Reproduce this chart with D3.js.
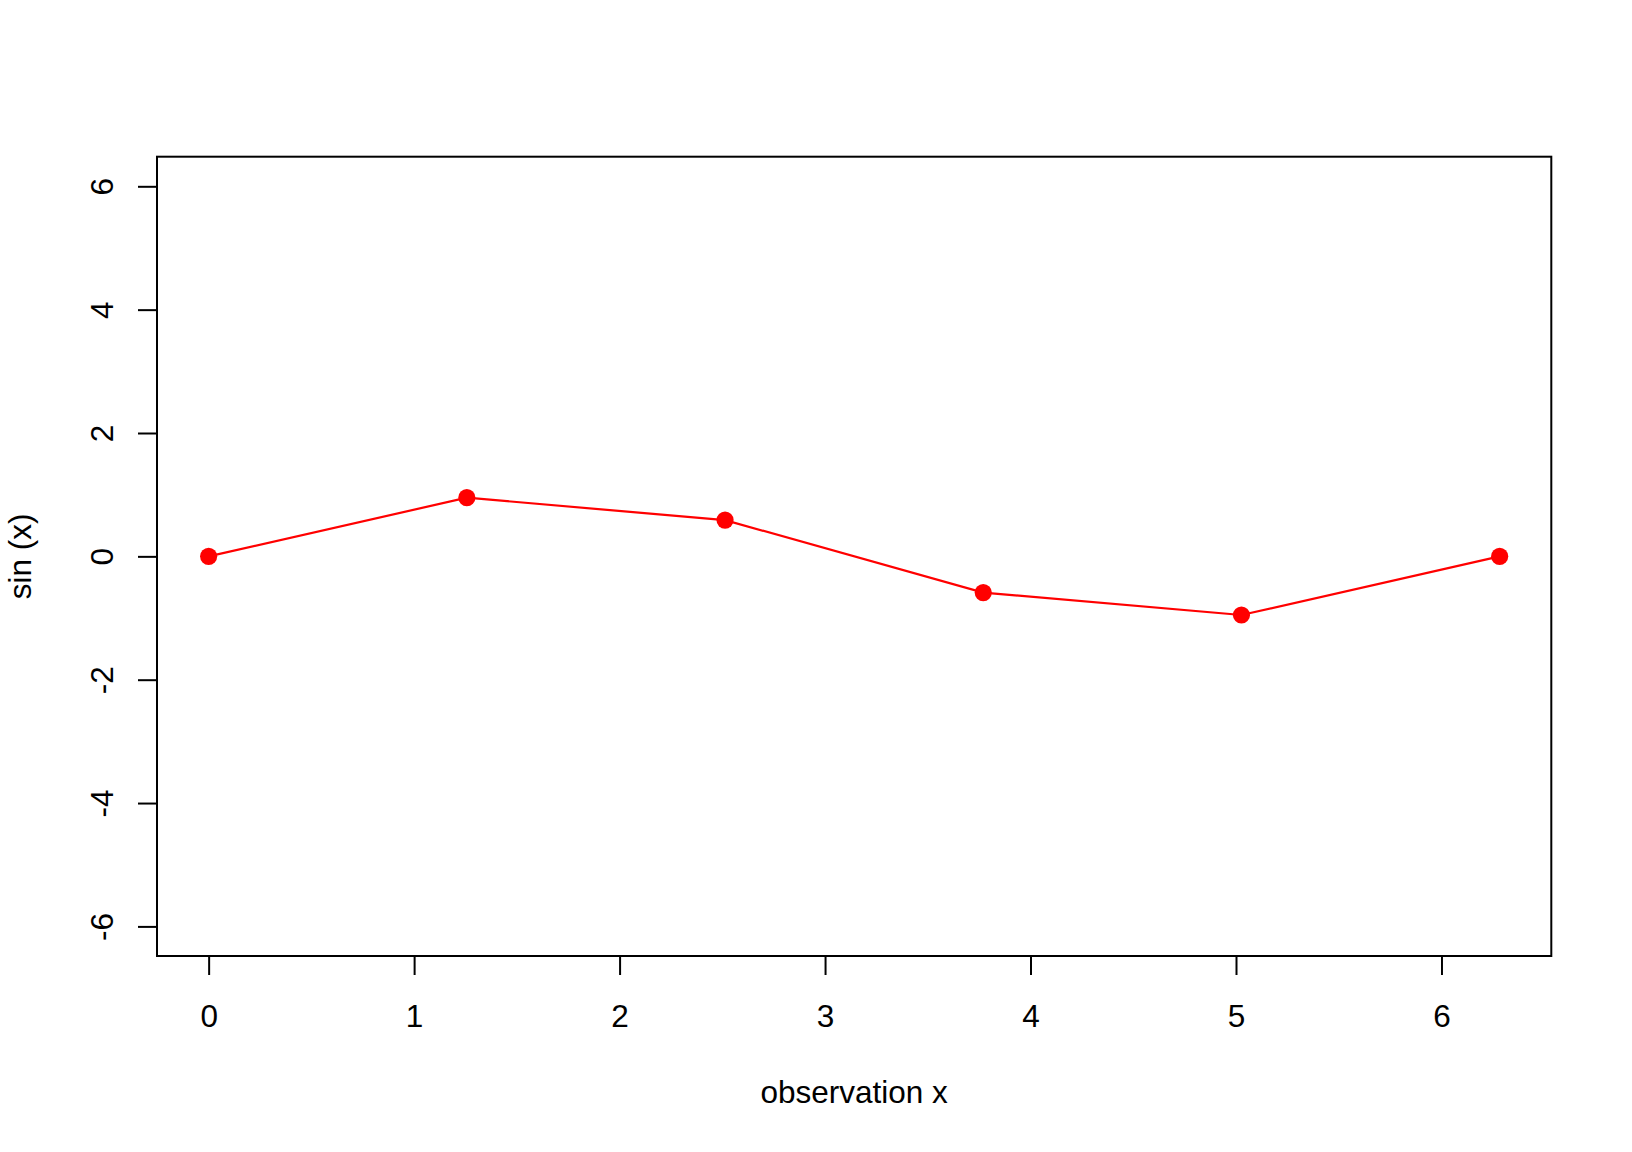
<!DOCTYPE html>
<html>
<head>
<meta charset="utf-8">
<script src="https://cdn.jsdelivr.net/npm/d3@7"></script>
<style>
  html, body { margin: 0; padding: 0; background: #ffffff; }
  svg { display: block; }
  text { font-family: "Liberation Sans", Arial, Helvetica, sans-serif; }
</style>
</head>
<body>
<svg id="chart" width="1632" height="1152"></svg>
<script>
// ---- data ----
const xValues = [0, 1.2566, 2.5133, 3.7699, 5.0265, 6.2832];
const yValues = [0, 0.9511, 0.5878, -0.5878, -0.9511, 0];
const xTicks = [0, 1, 2, 3, 4, 5, 6];
const yTicks = [-6, -4, -2, 0, 2, 4, 6];
const yLimits = [-6, 6];
const xLabel = "observation x";
const yLabel = "sin (x)";

// ---- layout ----
const W = 1632, H = 1152;
const box = { left: 157, right: 1551.3, top: 156.7, bottom: 956 };
const fontSize = 31.5;

const svg = d3.select("#chart");
svg.append("rect").attr("width", W).attr("height", H).attr("fill", "#ffffff");

// R-style 4% domain extension
const xExt = d3.extent(xValues);
const xPad = (xExt[1] - xExt[0]) * 0.04;
const yPad = (yLimits[1] - yLimits[0]) * 0.04;

const x = d3.scaleLinear()
  .domain([xExt[0] - xPad, xExt[1] + xPad])
  .range([box.left, box.right]);
const y = d3.scaleLinear()
  .domain([yLimits[0] - yPad, yLimits[1] + yPad])
  .range([box.bottom, box.top]);

// line + points
const pts = xValues.map((v, i) => ({ x: v, y: yValues[i] }));
svg.append("path")
  .datum(pts)
  .attr("fill", "none")
  .attr("stroke", "#ff0000")
  .attr("stroke-width", 2.2)
  .attr("d", d3.line().x(d => x(d.x)).y(d => y(d.y)));

svg.append("g").selectAll("circle")
  .data(pts)
  .join("circle")
  .attr("cx", d => x(d.x))
  .attr("cy", d => y(d.y))
  .attr("r", 8.6)
  .attr("fill", "#ff0000");

// axes
const tickLen = 19;
const fmt = d => String(d);
const gx = svg.append("g")
  .attr("transform", `translate(0,${box.bottom})`)
  .call(d3.axisBottom(x).tickValues(xTicks).tickSize(tickLen).tickFormat(fmt));
gx.select(".domain").remove();
gx.selectAll(".tick line").attr("stroke", "#000").attr("stroke-width", 2);
gx.selectAll(".tick text")
  .attr("y", 71).attr("dy", null)
  .attr("fill", "#000")
  .style("font-size", fontSize + "px")
  .style("font-family", '"Liberation Sans", Arial, sans-serif');

const gy = svg.append("g")
  .attr("transform", `translate(${box.left},0)`)
  .call(d3.axisLeft(y).tickValues(yTicks).tickSize(tickLen).tickFormat(fmt));
gy.select(".domain").remove();
gy.selectAll(".tick line").attr("stroke", "#000").attr("stroke-width", 2);
gy.selectAll(".tick text")
  .attr("x", null).attr("dy", null)
  .attr("text-anchor", "middle")
  .attr("transform", "translate(-44.5,0) rotate(-90)")
  .attr("fill", "#000")
  .style("font-size", fontSize + "px")
  .style("font-family", '"Liberation Sans", Arial, sans-serif');

// box
svg.append("rect")
  .attr("x", box.left).attr("y", box.top)
  .attr("width", box.right - box.left).attr("height", box.bottom - box.top)
  .attr("fill", "none").attr("stroke", "#000").attr("stroke-width", 2);

// axis titles
svg.append("text")
  .attr("x", (box.left + box.right) / 2)
  .attr("y", 1103)
  .attr("text-anchor", "middle")
  .style("font-size", fontSize + "px")
  .attr("fill", "#000")
  .text(xLabel);

svg.append("text")
  .attr("transform", `translate(31,${(box.top + box.bottom) / 2}) rotate(-90)`)
  .attr("text-anchor", "middle")
  .style("font-size", fontSize + "px")
  .attr("fill", "#000")
  .text(yLabel);
</script>
</body>
</html>
